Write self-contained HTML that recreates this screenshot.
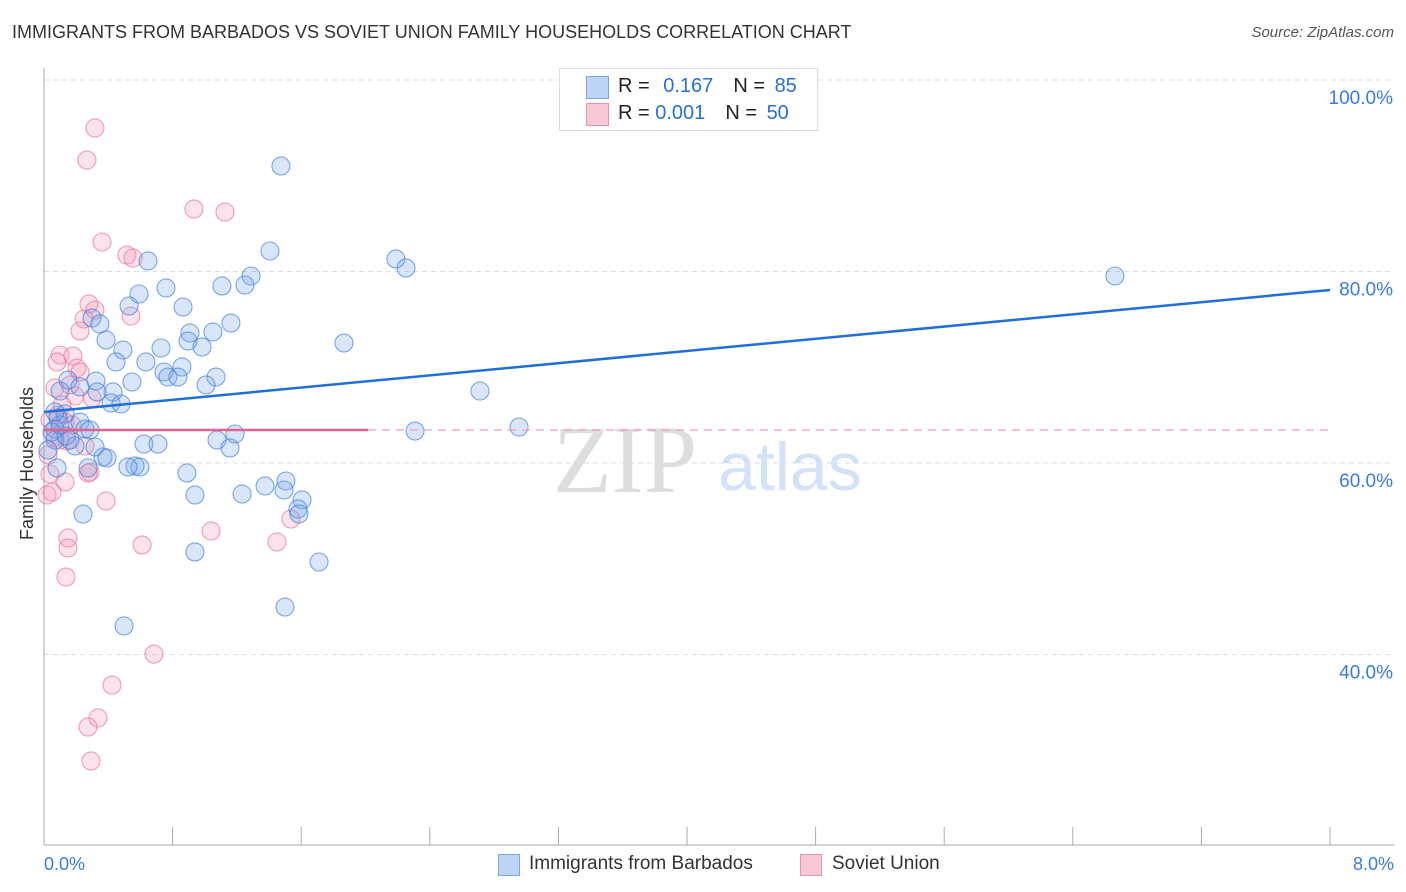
<!DOCTYPE html>
<html><head><meta charset="utf-8"><style>
body{margin:0;background:#fff;font-family:"Liberation Sans",sans-serif;}
#wrap{position:relative;width:1406px;height:892px;overflow:hidden;}
.t{position:absolute;white-space:nowrap;}
</style></head><body>
<div id="wrap">
<div class="t" style="left:12px;top:22px;font-size:18px;color:#333;">IMMIGRANTS FROM BARBADOS VS SOVIET UNION FAMILY HOUSEHOLDS CORRELATION CHART</div>
<div class="t" style="right:12px;top:24px;font-size:15px;color:#555;font-style:italic;">Source: ZipAtlas.com</div>
<svg id="svg" width="1406" height="892" style="position:absolute;left:0;top:0"></svg>
<div class="t" style="left:17px;top:540px;font-size:18px;color:#333;transform:rotate(-90deg);transform-origin:left top;">Family Households</div>
<div style="position:absolute;left:559px;top:68px;width:257px;height:61px;border:1px solid #ddd;background:#fff;font-size:20px;">
 <div style="position:absolute;left:26px;top:7px;width:21px;height:21px;background:#bcd4f5;border:1px solid #7aa7e8"></div>
 <div class="t" style="left:58px;top:6px;color:#222">R = <span style="color:#2a6fd3;margin-left:8px">0.167</span><span style="margin-left:20px">N = </span><span style="color:#2a6fd3;margin-left:4px">85</span></div>
 <div style="position:absolute;left:26px;top:34px;width:21px;height:21px;background:#f8c8d6;border:1px solid #eb93ad"></div>
 <div class="t" style="left:58px;top:33px;color:#222">R = <span style="color:#2a6fd3;">0.001</span><span style="margin-left:20px">N = </span><span style="color:#2a6fd3;margin-left:4px">50</span></div>
</div>
<div>
 <div style="position:absolute;left:498px;top:854px;width:20px;height:20px;background:#bcd4f5;border:1px solid #7aa7e8"></div>
 <div class="t" style="left:529px;top:853px;font-size:19px;color:#333">Immigrants from Barbados</div>
 <div style="position:absolute;left:800px;top:854px;width:20px;height:20px;background:#f8c8d6;border:1px solid #eb93ad"></div>
 <div class="t" style="left:832px;top:853px;font-size:19px;color:#333">Soviet Union</div>
</div>
</div>
<script>
const blueX=[1.474,1.406,2.189,2.252,6.662,0.647,1.288,1.250,1.107,0.759,0.591,0.529,0.865,0.299,0.348,1.163,0.908,1.051,0.386,0.896,0.983,0.728,0.491,1.866,0.634,0.448,0.858,0.746,0.771,0.833,1.070,1.008,0.547,0.149,0.323,0.224,0.100,0.429,0.330,0.417,0.479,2.712,0.131,0.087,0.224,0.255,0.068,2.308,2.955,1.188,1.076,1.157,0.622,0.709,0.193,0.367,0.392,0.566,0.597,0.522,0.274,0.889,1.505,1.375,1.493,1.232,0.939,1.605,1.580,1.586,0.243,1.711,0.939,1.499,0.498,0.068,0.050,0.100,0.162,0.286,0.025,0.081,0.137,0.317,0.068];
const blueY=[91.02,82.14,81.31,80.37,79.53,81.10,79.53,78.59,78.49,78.28,77.65,76.40,76.29,75.14,74.52,74.62,73.58,73.68,72.85,72.74,72.11,72.01,71.80,72.53,70.55,70.55,70.03,69.50,68.98,68.98,68.98,68.15,68.46,68.67,68.56,67.94,67.52,67.42,67.42,66.27,66.16,67.52,65.12,64.70,64.28,63.55,63.55,63.34,63.76,63.03,62.40,61.57,61.98,61.98,61.78,60.63,60.52,59.69,59.58,59.58,59.48,58.96,58.12,57.60,57.18,56.76,56.66,56.14,55.20,54.67,54.67,49.66,50.71,44.96,42.98,62.40,63.24,63.97,62.40,63.45,61.36,59.48,62.82,61.67,65.33];
const pinkX=[0.317,0.267,0.933,1.126,0.361,0.516,0.554,0.280,0.317,0.249,0.541,0.224,0.100,0.180,0.081,0.205,0.224,0.068,0.193,0.299,0.087,0.131,0.174,0.068,0.143,0.255,0.025,0.286,0.037,0.131,0.019,0.050,0.386,1.039,1.449,1.536,0.610,0.149,0.149,0.137,0.684,0.423,0.336,0.274,0.292,0.100,0.112,0.162,0.037,0.274];
const pinkY=[94.99,91.64,86.53,86.21,83.08,81.72,81.41,76.61,75.98,75.04,75.35,73.79,71.28,71.17,70.55,69.92,69.50,67.83,67.00,66.79,65.01,64.28,63.97,62.72,62.30,61.78,60.84,59.06,58.85,58.02,56.66,56.97,56.03,52.90,51.75,54.15,51.44,52.17,51.12,48.09,40.05,36.81,33.37,32.43,28.88,62.40,66.06,68.15,64.49,58.96];
const blueTrend=[65.33,78.07];
const pinkTrend=[63.45,63.45];
const pinkSolidEnd=2.015;
const yTicks=[40,60,80,100];
const yTickLabels=["40.0%","60.0%","80.0%","100.0%"];
const xTicks=[0,0.8,1.6,2.4,3.2,4.0,4.8,5.6,6.4,7.2,8.0];

const NS="http://www.w3.org/2000/svg";
const svg=document.getElementById('svg');
const X=v=>44+v/8*1286;
const Y=v=>463-(v-60)*9.575;
function mk(tag,attrs,parent){const e=document.createElementNS(NS,tag);for(const k in attrs)e.setAttribute(k,attrs[k]);(parent||svg).appendChild(e);return e;}
yTicks.forEach((t,i)=>{
 const g=mk('line',{x1:44,x2:1394,y1:Y(t),y2:Y(t),stroke:'#ddd','stroke-dasharray':'5,4'});
 
 
 const tx=mk('text',{x:1393,y:Y(t)+24,'text-anchor':'end','font-size':19,fill:'#3a7be0','font-family':'Liberation Sans, sans-serif'});
 tx.textContent=yTickLabels[i];
 
 
});
const ax=mk('line',{x1:44,x2:44,y1:68,y2:845,stroke:'#aaa'});


const bx=mk('line',{x1:44,x2:1394,y1:845,y2:845,stroke:'#aaa'});


xTicks.forEach(t=>{
 const l=mk('line',{x1:X(t),x2:X(t),y1:827,y2:845,stroke:'#aaa'});
 
 
});
[[0,'0.0%','start',44],[8,'8.0%','end',1394]].forEach(a=>{
 const tx=mk('text',{x:a[3],y:870,'text-anchor':a[2],'font-size':18,fill:'#3a7be0','font-family':'Liberation Sans, sans-serif'});
 tx.textContent=a[1];
 
 
});
const wm=mk('text',{x:553,y:492,'font-size':96,fill:'#ddd','font-family':'Liberation Serif, serif'});
wm.textContent='ZIP';


const wm2=mk('text',{x:718,y:490,'font-size':68,fill:'#d3e2f6','font-family':'Liberation Sans, sans-serif'});
wm2.textContent='atlas';


pinkX.forEach((x,i)=>{
 const c=mk('circle',{cx:X(x),cy:Y(pinkY[i]),r:9,fill:'rgba(244,150,180,0.28)',stroke:'rgba(230,120,155,0.7)','stroke-width':1.1});
 
 
});
blueX.forEach((x,i)=>{
 const c=mk('circle',{cx:X(x),cy:Y(blueY[i]),r:9,fill:'rgba(120,165,235,0.28)',stroke:'rgba(70,130,220,0.7)','stroke-width':1.1});
 
 
});
const bl=mk('line',{x1:X(0),y1:Y(blueTrend[0]),x2:X(8),y2:Y(blueTrend[1]),stroke:'#1f6fd6','stroke-width':2.5});


const pl=mk('line',{x1:X(0),y1:Y(pinkTrend[0]),x2:X(pinkSolidEnd),y2:Y(pinkTrend[0]),stroke:'#e0608e','stroke-width':2.5});


const pd=mk('line',{x1:X(pinkSolidEnd),y1:Y(pinkTrend[0]),x2:X(8),y2:Y(pinkTrend[1]),stroke:'#eaa0b8','stroke-width':1.2,'stroke-dasharray':'8,6'});


</script>
</body></html>
